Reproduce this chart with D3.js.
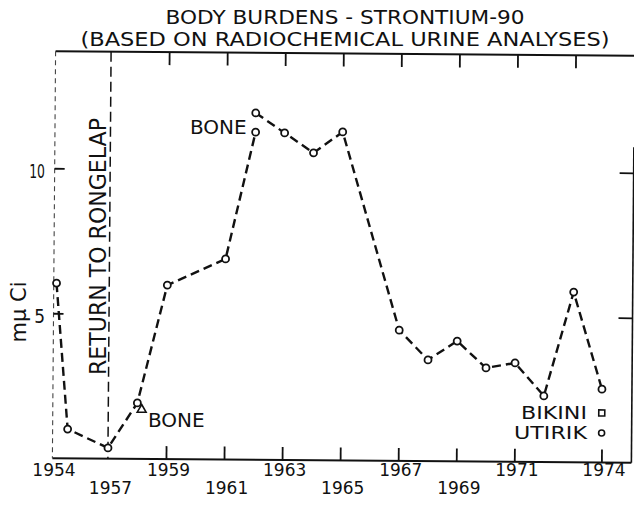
<!DOCTYPE html>
<html><head><meta charset="utf-8">
<script src="https://cdn.jsdelivr.net/npm/d3@7"></script>
<style>
body{margin:0;background:#fff}
svg{display:block}
text{font-family:"DejaVu Sans",sans-serif;fill:#111}
</style>
</head><body>
<svg id="chart" width="634" height="508"></svg>
<script>
// ---- data ----
const urineYears  = [1954.2, 1954.85, 1957, 1958, 1959, 1961, 1962, 1963, 1964, 1965, 1967, 1968, 1969, 1970, 1971, 1972, 1973, 1974];
const urineValues = [6.04, 1.01, 0.37, 1.93, 6.0, 6.92, 11.96, 11.28, 10.6, 11.33, 4.51, 3.49, 4.15, 3.23, 3.41, 2.28, 5.87, 2.53];
const boneYears   = [1958.15, 1962];
const boneValues  = [1.70, 11.3];
const otherNames  = ["BIKINI", "UTIRIK"];
const otherYears  = [1974, 1974];
const otherValues = [1.71, 1.02];
const returnYear  = 1957;
const yTickValues = [5, 10];
const topTickYears    = [1959, 1961, 1963, 1965, 1967, 1969, 1971, 1973];
const bottomTickYears = [1959, 1961, 1963, 1965, 1967, 1969, 1971, 1974];
const labelYears = [1954, 1957, 1959, 1961, 1963, 1965, 1967, 1969, 1971, 1974];
const labelRows  = [0, 1, 0, 1, 0, 1, 0, 1, 0, 0];
const titleLines = ["BODY BURDENS - STRONTIUM-90", "(BASED ON RADIOCHEMICAL URINE ANALYSES)"];
const yAxisLabel = "m\u03bc Ci";
const returnLabel = "RETURN TO RONGELAP";

// ---- layout ----
const L = 54, R = 633, T = 53.5, B = 460.5;
const svg = d3.select("#chart");
const x = d3.scaleLinear().domain([1954, 1957, 1974]).range([L - 1, 109.5, 603]);
const y = d3.scaleLinear().domain([0, 10]).range([B, 170.5]);

// plot frame is slightly skewed in the scan
const plot = svg.append("g").attr("transform", "rotate(0.45,343,255)");

// frame lines
plot.append("line").attr("x1", L).attr("x2", 634).attr("y1", T).attr("y2", T)
  .attr("stroke", "#111").attr("stroke-width", 2);
plot.append("line").attr("x1", L).attr("x2", R).attr("y1", B).attr("y2", B)
  .attr("stroke", "#111").attr("stroke-width", 2);
plot.append("line").attr("x1", L).attr("x2", L).attr("y1", T).attr("y2", B)
  .attr("stroke", "#444").attr("stroke-width", 1.1).attr("stroke-dasharray", "5,4");
plot.append("line").attr("x1", R).attr("x2", R).attr("y1", 145).attr("y2", B)
  .attr("stroke", "#111").attr("stroke-width", 1.6);

// axes (ticks only)
const styleAxis = g => {
  g.select(".domain").remove();
  g.selectAll(".tick line").attr("stroke", "#111").attr("stroke-width", 1.8);
  g.selectAll(".tick text").remove();
};
plot.append("g").attr("transform", `translate(0,${T})`)
  .call(d3.axisBottom(x).tickValues(topTickYears).tickSize(13)).call(styleAxis);
plot.append("g").attr("transform", `translate(0,${B})`)
  .call(d3.axisTop(x).tickValues(bottomTickYears).tickSize(13)).call(styleAxis);
plot.append("g").attr("transform", `translate(${L},0)`)
  .call(d3.axisRight(y).tickValues(yTickValues).tickSize(10)).call(styleAxis);
plot.append("g").attr("transform", `translate(${R},0)`)
  .call(d3.axisLeft(y).tickValues(yTickValues).tickSize(14)).call(styleAxis);

// return to Rongelap line
plot.append("line").attr("x1", x(returnYear)).attr("x2", x(returnYear))
  .attr("y1", T).attr("y2", B)
  .attr("stroke", "#111").attr("stroke-width", 1.5).attr("stroke-dasharray", "10,5");

// data
const urine = urineYears.map((yr, i) => ({yr, v: urineValues[i]}));
const bone = boneYears.map((yr, i) => ({yr, v: boneValues[i]}));
const i62 = urineYears.indexOf(1962);
const segA = urine.slice(0, i62).concat([bone[1]]);
const segB = urine.slice(i62);
const line = d3.line().x(d => x(d.yr)).y(d => y(d.v));
[segA, segB].forEach(seg => {
  plot.append("path").attr("d", line(seg)).attr("fill", "none")
    .attr("stroke", "#111").attr("stroke-width", 2.4).attr("stroke-dasharray", "9,5");
});

plot.selectAll("circle.u").data(urine.concat([bone[1]])).join("circle")
  .attr("cx", d => x(d.yr)).attr("cy", d => y(d.v)).attr("r", 3.5)
  .attr("fill", "#fff").attr("stroke", "#111").attr("stroke-width", 1.8);

plot.append("path")
  .attr("d", d3.symbol(d3.symbolTriangle, 34)())
  .attr("transform", `translate(${x(bone[0].yr)},${y(bone[0].v)})`)
  .attr("fill", "#fff").attr("stroke", "#111").attr("stroke-width", 1.6);

// other atolls
plot.append("rect").attr("x", x(otherYears[0]) - 3).attr("y", y(otherValues[0]) - 3)
  .attr("width", 6).attr("height", 6).attr("fill", "#fff").attr("stroke", "#111").attr("stroke-width", 1.6);
plot.append("circle").attr("cx", x(otherYears[1])).attr("cy", y(otherValues[1])).attr("r", 3)
  .attr("fill", "#fff").attr("stroke", "#111").attr("stroke-width", 1.6);

// ---- text (lettered straight in the scan) ----
svg.append("text").attr("x", 345).attr("y", 24).attr("text-anchor", "middle")
  .attr("font-size", 20).attr("textLength", 359).attr("lengthAdjust", "spacingAndGlyphs").text(titleLines[0]);
svg.append("text").attr("x", 345).attr("y", 46).attr("text-anchor", "middle")
  .attr("font-size", 20).attr("textLength", 529).attr("lengthAdjust", "spacingAndGlyphs").text(titleLines[1]);

svg.selectAll("text.xl").data(labelYears).join("text").attr("class", "xl")
  .attr("x", (d) => x(d) + 1).attr("y", (d, i) => labelRows[i] ? 494 : 476)
  .attr("text-anchor", "middle").attr("font-size", 17).text(d => d);

svg.selectAll("text.yl").data(yTickValues).join("text").attr("class", "yl")
  .attr("transform", d => `translate(45,${y(d) + 7}) scale(${d >= 10 ? 0.62 : 0.85},1)`)
  .attr("text-anchor", "end").attr("font-size", 20)
  .text(d => d);

svg.append("text").attr("transform", "translate(26,312) rotate(-90)")
  .attr("text-anchor", "middle").attr("font-size", 21).text(yAxisLabel);

svg.append("text").attr("transform", `translate(${x(returnYear) - 4},246.5) rotate(-90)`)
  .attr("text-anchor", "middle").attr("font-size", 23)
  .attr("textLength", 257).attr("lengthAdjust", "spacingAndGlyphs").text(returnLabel);

svg.append("text").attr("x", x(bone[1].yr) - 8).attr("y", y(bone[1].v) + 1)
  .attr("text-anchor", "end").attr("font-size", 20).text("BONE");
svg.append("text").attr("x", x(bone[0].yr) + 5).attr("y", y(bone[0].v) + 16)
  .attr("font-size", 20).text("BONE");

svg.selectAll("text.ol").data(otherNames).join("text").attr("class", "ol")
  .attr("x", (d, i) => x(otherYears[i]) - 16).attr("y", (d, i) => y(otherValues[i]) + 8)
  .attr("text-anchor", "end").attr("font-size", 17)
  .attr("textLength", (d, i) => i ? 73 : 66).attr("lengthAdjust", "spacingAndGlyphs")
  .text(d => d);
</script>
</body></html>
